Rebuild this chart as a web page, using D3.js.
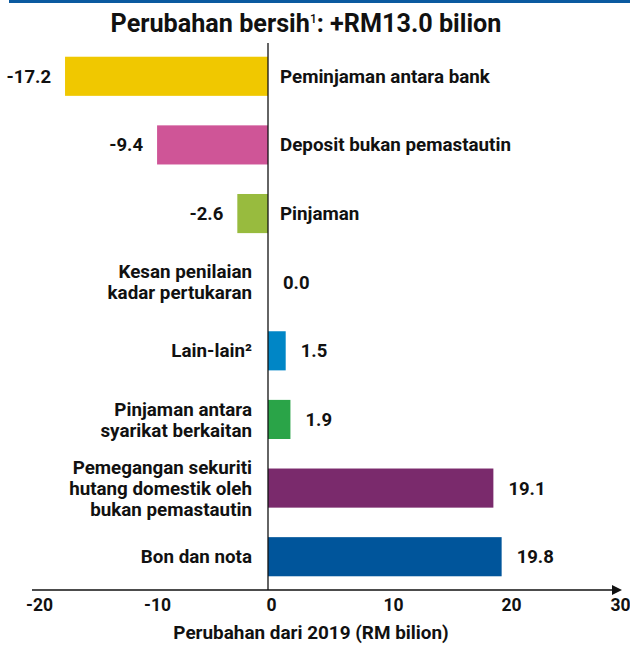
<!DOCTYPE html>
<html>
<head>
<meta charset="utf-8">
<script src="https://cdn.jsdelivr.net/npm/d3@7"></script>
<style>
  body { margin: 0; background: #fff; }
  svg text { font-family: Roboto, "Noto Sans", sans-serif; fill: #111; }
</style>
</head>
<body>
<div id="chart"></div>
<script>
// data
var categories = [
  ["Peminjaman antara bank"],
  ["Deposit bukan pemastautin"],
  ["Pinjaman"],
  ["Kesan penilaian", "kadar pertukaran"],
  ["Lain-lain\u00b2"],
  ["Pinjaman antara", "syarikat berkaitan"],
  ["Pemegangan sekuriti", "hutang domestik oleh", "bukan pemastautin"],
  ["Bon dan nota"]
];
var values = [-17.2, -9.4, -2.6, 0.0, 1.5, 1.9, 19.1, 19.8];
var colors = ["#f0c800", "#cf5597", "#98bb3e", "#888", "#0086c6", "#2aa448", "#7a2a6c", "#00559b"];
var tickValues = [-20, -10, 0, 10, 20, 30];
var title = "Perubahan bersih";
var titleRest = ": +RM13.0 bilion";
var axisTitle = "Perubahan dari 2019 (RM bilion)";

// plain hyphen for negatives, like the original
var fmt = function(d) { return d3.format(".1f")(d).replace("\u2212", "-"); };
var fmtTick = function(d) { return d3.format("d")(d).replace("\u2212", "-"); };

var width = 630, height = 645;
var svg = d3.select("#chart").append("svg")
  .attr("width", width).attr("height", height);

// top rule
svg.append("rect").attr("x", 9).attr("y", 0).attr("width", 621).attr("height", 3).attr("fill", "#0a5aa0");

// title
var t = svg.append("text").attr("x", 306).attr("y", 32).attr("text-anchor", "middle")
  .style("font-size", "25.2px").style("font-weight", 700);
t.append("tspan").text(title);
t.append("tspan").text("1").attr("dy", -9).style("font-size", "12px").style("font-weight", 500);
t.append("tspan").text(titleRest).attr("dy", 9);

var x = d3.scaleLinear().domain([-20, 30]).range([32, 622]);
var y = d3.scaleBand().domain(d3.range(values.length)).range([43, 590]).paddingInner(0.43).paddingOuter(0.2);

var g = svg.append("g");

g.selectAll("rect.bar").data(values).enter().append("rect")
  .attr("class", "bar")
  .attr("x", function(d) { return x(Math.min(0, d)); })
  .attr("y", function(d, i) { return y(i); })
  .attr("width", function(d) { return Math.abs(x(d) - x(0)); })
  .attr("height", y.bandwidth())
  .attr("fill", function(d, i) { return colors[i]; });

// zero line
svg.append("line").attr("x1", x(0)).attr("x2", x(0)).attr("y1", 43).attr("y2", 590)
  .attr("stroke", "#111").attr("stroke-width", 1.3);

// category labels
var lh = 21;
g.selectAll("text.cat").data(categories).enter().append("text")
  .attr("class", "cat")
  .style("font-size", "18.8px").style("font-weight", 700)
  .attr("text-anchor", function(d, i) { return values[i] < 0 ? "start" : "end"; })
  .each(function(d, i) {
    var cy = y(i) + y.bandwidth() / 2;
    var tx = values[i] < 0 ? x(0) + 12 : x(0) - 16;
    var top = cy - (d.length - 1) * lh / 2;
    d3.select(this).selectAll("tspan").data(d).enter().append("tspan")
      .attr("x", tx)
      .attr("y", function(s, k) { return top + k * lh; })
      .attr("dy", "0.35em")
      .text(function(s) { return s; });
  });

// value labels
g.selectAll("text.val").data(values).enter().append("text")
  .attr("class", "val")
  .style("font-size", "18.5px").style("font-weight", 700)
  .attr("text-anchor", function(d) { return d < 0 ? "end" : "start"; })
  .attr("x", function(d) { return d < 0 ? x(d) - 14 : x(d) + 15; })
  .attr("y", function(d, i) { return y(i) + y.bandwidth() / 2; })
  .attr("dy", "0.35em")
  .text(fmt);

// axis
var axis = svg.append("g").attr("transform", "translate(0,590)")
  .call(d3.axisBottom(x).tickValues(tickValues).tickSize(0).tickPadding(9).tickFormat(fmtTick));
axis.select(".domain").remove();
axis.selectAll("text").style("font-size", "17.5px").style("font-weight", 700)
  .style("font-family", "Roboto, sans-serif").attr("fill", "#111")
  .attr("dx", function(d) { return d === 0 ? 3 : 7; });
// last tick label sits against the right edge
axis.selectAll(".tick").filter(function(d) { return d === 30; }).select("text")
  .attr("text-anchor", "end").attr("x", 0).attr("dx", 8);

svg.append("line").attr("x1", 32).attr("x2", 614).attr("y1", 590).attr("y2", 590)
  .attr("stroke", "#111").attr("stroke-width", 1.3);
svg.append("path").attr("d", d3.line()([[612, 585], [622, 590], [612, 595]]) + "Z").attr("fill", "#111");

svg.append("text").attr("x", 311).attr("y", 639).attr("text-anchor", "middle")
  .style("font-size", "18.9px").style("font-weight", 700).text(axisTitle);
</script>
</body>
</html>
